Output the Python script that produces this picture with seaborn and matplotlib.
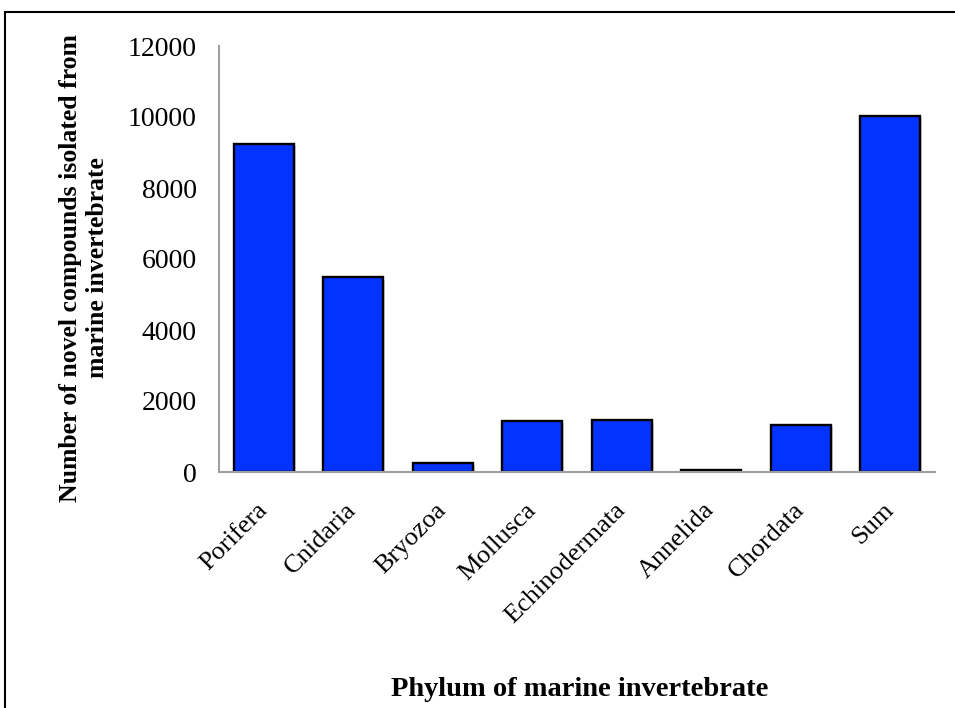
import matplotlib
matplotlib.use("Agg")
import matplotlib.pyplot as plt
import matplotlib.patheffects as pe
from matplotlib.patches import Rectangle
from matplotlib.ticker import FixedLocator
import pandas as pd
import seaborn as sns

# Novel compounds isolated per phylum of marine invertebrate
phyla = ["Porifera", "Cnidaria", "Bryozoa", "Mollusca", "Echinodermata",
         "Annelida", "Chordata", "Sum"]
compounds = [9240, 5480, 250, 1440, 1465, 50, 1315, 10035]
y_ticks = [0, 2000, 4000, 6000, 8000, 10000, 12000]

df = pd.DataFrame({"phylum": phyla, "compounds": compounds})

sns.set_theme(style="white")
plt.rcParams["font.family"] = ["Liberation Serif", "DejaVu Serif"]
plt.rcParams["text.color"] = "black"
plt.rcParams["xtick.labelcolor"] = "black"
plt.rcParams["ytick.labelcolor"] = "black"

fig = plt.figure(figsize=(9.55, 7.08), dpi=100)
ax = fig.add_axes([219 / 955, 1 - 472 / 708, (935 - 219) / 955, (472 - 46) / 708])

sns.barplot(data=df, x="phylum", y="compounds", ax=ax, color="#0433FF",
            saturation=1, width=0.67, edgecolor="black", linewidth=1.7)
for bar in ax.patches:
    bar.set_path_effects([pe.SimplePatchShadow(offset=(1.5, -1.5), shadow_rgbFace="#888888", alpha=0.35),
                          pe.Normal()])

ax.set_xlim(-0.5, len(phyla) - 0.5)
ax.set_ylim(0, 12000)
ax.yaxis.set_major_locator(FixedLocator(y_ticks))
ax.set_yticklabels([str(v) for v in y_ticks])

# category boundary ticks on the x axis
ax.xaxis.set_major_locator(FixedLocator([i for i in range(len(phyla))]))
ax.xaxis.set_minor_locator(FixedLocator([i - 0.5 for i in range(len(phyla) + 1)]))
ax.tick_params(axis="x", which="major", length=0, pad=25, labelsize=19, labelcolor="black")
ax.tick_params(axis="x", which="minor", length=6, width=1.2, color="#A0A0A0", direction="out")
ax.tick_params(axis="y", which="major", length=6, width=1.2, color="#A0A0A0",
               direction="out", labelsize=20, pad=10, labelcolor="black")
for lbl in ax.get_xticklabels():
    lbl.set_rotation(45)
    lbl.set_ha("right")
    lbl.set_va("center")
    lbl.set_rotation_mode("anchor")

for side in ["top", "right"]:
    ax.spines[side].set_visible(False)
for side in ["left", "bottom"]:
    ax.spines[side].set_color("#A0A0A0")
    ax.spines[side].set_linewidth(1.5)

ax.set_xlabel("")
ax.set_ylabel("")
fig.text(580 / 955, 1 - 690 / 708, "Phylum of marine invertebrate", ha="center", va="center",
         fontsize=20.5, fontweight="bold", color="black")
fig.text(84 / 955, 1 - 268 / 708,
         "Number of novel compounds isolated from\nmarine invertebrate",
         ha="center", va="center", rotation=90, fontsize=18.5, fontweight="bold",
         linespacing=1.25, multialignment="center", color="black")

# frame around the chart
fig.patches.append(Rectangle((5 / 955, -0.1), 1.2, 1 - 12 / 708 + 0.1,
                             transform=fig.transFigure, fill=False,
                             edgecolor="black", linewidth=1.5))

fig.savefig("out.png", dpi=100)
